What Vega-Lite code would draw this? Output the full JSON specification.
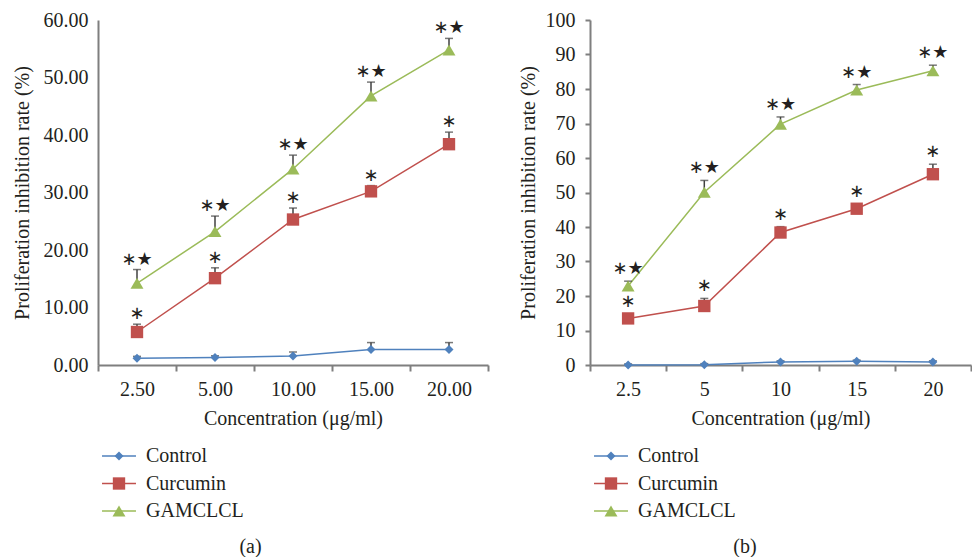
{
  "$schema": "https://vega.github.io/schema/vega-lite/v6.json",
  "padding": {"left": 12, "top": 10, "right": 0, "bottom": 0},
  "background": "white",
  "spacing": 29,
  "config": {
    "font": "Liberation Serif",
    "view": {"stroke": null},
    "axis": {
      "labelFont": "Liberation Serif", "titleFont": "Liberation Serif",
      "labelFontSize": 20, "titleFontSize": 20, "titleFontWeight": "normal",
      "labelColor": "#231f20", "titleColor": "#231f20",
      "domainColor": "#7f7f7f", "domainWidth": 2, "tickColor": "#7f7f7f", "tickWidth": 2, "grid": false
    },
    "title": {"font": "Liberation Serif", "fontSize": 20, "fontWeight": "normal", "color": "#231f20"}
  },
  "datasets": {
    "a": [
      {"conc": "2.50", "series": "Control", "value": 1.16, "upper": 1.5, "note": ""},
      {"conc": "5.00", "series": "Control", "value": 1.3, "upper": 1.6, "note": ""},
      {"conc": "10.00", "series": "Control", "value": 1.57, "upper": 2.26, "note": ""},
      {"conc": "15.00", "series": "Control", "value": 2.7, "upper": 3.9, "note": ""},
      {"conc": "20.00", "series": "Control", "value": 2.7, "upper": 3.9, "note": ""},
      {"conc": "2.50", "series": "Curcumin", "value": 5.74, "upper": 7.1, "note": "∗"},
      {"conc": "5.00", "series": "Curcumin", "value": 15.1, "upper": 16.9, "note": "∗"},
      {"conc": "10.00", "series": "Curcumin", "value": 25.3, "upper": 27.3, "note": "∗"},
      {"conc": "15.00", "series": "Curcumin", "value": 30.2, "upper": 31.2, "note": "∗"},
      {"conc": "20.00", "series": "Curcumin", "value": 38.4, "upper": 40.5, "note": "∗"},
      {"conc": "2.50", "series": "GAMCLCL", "value": 14.2, "upper": 16.6, "note": "∗★"},
      {"conc": "5.00", "series": "GAMCLCL", "value": 23.2, "upper": 25.9, "note": "∗★"},
      {"conc": "10.00", "series": "GAMCLCL", "value": 34.1, "upper": 36.5, "note": "∗★"},
      {"conc": "15.00", "series": "GAMCLCL", "value": 46.8, "upper": 49.2, "note": "∗★"},
      {"conc": "20.00", "series": "GAMCLCL", "value": 54.8, "upper": 56.8, "note": "∗★"}
    ],
    "b": [
      {"conc": "2.5", "series": "Control", "value": 0, "upper": 0.3, "note": ""},
      {"conc": "5", "series": "Control", "value": 0.1, "upper": 0.4, "note": ""},
      {"conc": "10", "series": "Control", "value": 0.9, "upper": 1.2, "note": ""},
      {"conc": "15", "series": "Control", "value": 1.1, "upper": 1.4, "note": ""},
      {"conc": "20", "series": "Control", "value": 0.9, "upper": 1.2, "note": ""},
      {"conc": "2.5", "series": "Curcumin", "value": 13.5, "upper": 14.7, "note": "∗"},
      {"conc": "5", "series": "Curcumin", "value": 17.1, "upper": 19.3, "note": "∗"},
      {"conc": "10", "series": "Curcumin", "value": 38.4, "upper": 40.1, "note": "∗"},
      {"conc": "15", "series": "Curcumin", "value": 45.3, "upper": 46.7, "note": "∗"},
      {"conc": "20", "series": "Curcumin", "value": 55.3, "upper": 58.2, "note": "∗"},
      {"conc": "2.5", "series": "GAMCLCL", "value": 22.9, "upper": 24.3, "note": "∗★"},
      {"conc": "5", "series": "GAMCLCL", "value": 50.1, "upper": 53.5, "note": "∗★"},
      {"conc": "10", "series": "GAMCLCL", "value": 69.8, "upper": 71.9, "note": "∗★"},
      {"conc": "15", "series": "GAMCLCL", "value": 79.7, "upper": 81.3, "note": "∗★"},
      {"conc": "20", "series": "GAMCLCL", "value": 85.3, "upper": 86.9, "note": "∗★"}
    ]
  },
  "resolve": {
    "scale": {"color": "independent", "fill": "independent", "shape": "independent", "x": "independent", "y": "independent"},
    "legend": {"color": "independent", "fill": "independent", "shape": "independent"}
  },
  "hconcat": [
    {
      "width": 390, "height": 345,
      "data": {"name": "a"},
      "title": {"text": "(a)", "orient": "bottom", "anchor": "middle", "frame": "bounds", "offset": 16},
      "encoding": {
        "x": {"field": "conc", "type": "ordinal", "sort": null,
          "scale": {"type": "band", "paddingInner": 0, "paddingOuter": 0},
          "axis": {"title": "Concentration (μg/ml)", "labelAngle": 0, "tickBand": "extent", "tickSize": 6, "labelPadding": 8, "titlePadding": 9, "labelFont": "Liberation Serif", "titleFont": "Liberation Serif", "labelFontSize": 20, "titleFontSize": 20}},
        "y": {"field": "value", "type": "quantitative", "scale": {"domain": [0, 60]},
          "axis": {"title": "Proliferation inhibition rate (%)", "format": ".2f", "values": [0, 10, 20, 30, 40, 50, 60], "ticks": false, "labelPadding": 10, "titlePadding": 11, "labelFont": "Liberation Serif", "titleFont": "Liberation Serif", "labelFontSize": 20, "titleFontSize": 20}}
      },
      "layer": [
        {
          "mark": {"type": "line", "strokeWidth": 1.5},
          "encoding": {
            "color": {"field": "series", "type": "nominal",
              "scale": {"domain": ["Control", "Curcumin", "GAMCLCL"], "range": ["#4F81BD", "#C0504D", "#9BBB59"]},
              "legend": {"title": null, "orient": "none", "legendX": 11, "legendY": 426, "padding": 0, "symbolType": "M-2.83,0H2.83", "symbolSize": 144, "symbolStrokeWidth": 1.5, "labelOffset": 17, "rowPadding": 7.5, "labelFontSize": 20, "labelFont": "Liberation Serif", "labelOpacity": 0}}
          }
        },
        {
          "mark": {"type": "rule", "color": "#404040", "strokeWidth": 1.5},
          "encoding": {"y2": {"field": "upper"}}
        },
        {
          "mark": {"type": "tick", "color": "#404040", "thickness": 1.5, "size": 8, "orient": "horizontal"},
          "encoding": {"y": {"field": "upper", "type": "quantitative", "scale": {"domain": [0, 60]},
            "axis": {"title": "Proliferation inhibition rate (%)", "format": ".2f", "values": [0, 10, 20, 30, 40, 50, 60], "ticks": false, "labelPadding": 10, "titlePadding": 11, "labelFont": "Liberation Serif", "titleFont": "Liberation Serif", "labelFontSize": 20, "titleFontSize": 20}}}
        },
        {
          "mark": {"type": "point", "filled": true, "opacity": 1, "size": 144},
          "encoding": {
            "fill": {"field": "series", "type": "nominal", "scale": {"range": ["#4F81BD", "#C0504D", "#9BBB59"]},
              "legend": {"title": null, "orient": "none", "legendX": 11, "legendY": 426, "padding": 0, "symbolSize": 144, "symbolStrokeWidth": 0, "labelOffset": 17, "rowPadding": 7.5, "labelFontSize": 20, "labelFont": "Liberation Serif", "labelColor": "#231f20"}},
            "shape": {"field": "series", "type": "nominal", "scale": {"range": ["M-0.75,0L0,-0.75L0.75,0L0,0.75Z", "M-1.03,-1.03H1.03V1.03H-1.03Z", "M-1.08,0.92L0,-0.92L1.08,0.92Z"]},
              "legend": {"title": null, "orient": "none", "legendX": 11, "legendY": 426, "padding": 0, "symbolSize": 144, "symbolStrokeWidth": 0, "labelOffset": 17, "rowPadding": 7.5, "labelFontSize": 20, "labelFont": "Liberation Serif", "labelColor": "#231f20"}}
          }
        },
        {
          "mark": {"type": "text", "dy": -10, "fontSize": 18, "color": "#231f20", "font": "DejaVu Sans", "baseline": "middle"},
          "encoding": {
            "y": {"field": "upper", "type": "quantitative", "scale": {"domain": [0, 60]},
              "axis": {"title": "Proliferation inhibition rate (%)", "format": ".2f", "values": [0, 10, 20, 30, 40, 50, 60], "ticks": false, "labelPadding": 10, "titlePadding": 11, "labelFont": "Liberation Serif", "titleFont": "Liberation Serif", "labelFontSize": 20, "titleFontSize": 20}},
            "text": {"field": "note"}
          }
        }
      ]
    },
    {
      "width": 381, "height": 345,
      "data": {"name": "b"},
      "title": {"text": "(b)", "orient": "bottom", "anchor": "middle", "frame": "bounds", "offset": 16},
      "encoding": {
        "x": {"field": "conc", "type": "ordinal", "sort": null,
          "scale": {"type": "band", "paddingInner": 0, "paddingOuter": 0},
          "axis": {"title": "Concentration (μg/ml)", "labelAngle": 0, "tickBand": "extent", "tickSize": 6, "labelPadding": 8, "titlePadding": 9, "labelFont": "Liberation Serif", "titleFont": "Liberation Serif", "labelFontSize": 20, "titleFontSize": 20}},
        "y": {"field": "value", "type": "quantitative", "scale": {"domain": [0, 100]},
          "axis": {"title": "Proliferation inhibition rate (%)", "format": "d", "values": [0, 10, 20, 30, 40, 50, 60, 70, 80, 90, 100], "tickSize": 5, "labelPadding": 10, "titlePadding": 7, "labelFont": "Liberation Serif", "titleFont": "Liberation Serif", "labelFontSize": 20, "titleFontSize": 20}}
      },
      "layer": [
        {
          "mark": {"type": "line", "strokeWidth": 1.5},
          "encoding": {
            "color": {"field": "series", "type": "nominal",
              "scale": {"domain": ["Control", "Curcumin", "GAMCLCL"], "range": ["#4F81BD", "#C0504D", "#9BBB59"]},
              "legend": {"title": null, "orient": "none", "legendX": 11, "legendY": 426, "padding": 0, "symbolType": "M-2.83,0H2.83", "symbolSize": 144, "symbolStrokeWidth": 1.5, "labelOffset": 17, "rowPadding": 7.5, "labelFontSize": 20, "labelFont": "Liberation Serif", "labelOpacity": 0}}
          }
        },
        {
          "mark": {"type": "rule", "color": "#404040", "strokeWidth": 1.5},
          "encoding": {"y2": {"field": "upper"}}
        },
        {
          "mark": {"type": "tick", "color": "#404040", "thickness": 1.5, "size": 8, "orient": "horizontal"},
          "encoding": {"y": {"field": "upper", "type": "quantitative", "scale": {"domain": [0, 100]},
            "axis": {"title": "Proliferation inhibition rate (%)", "format": "d", "values": [0, 10, 20, 30, 40, 50, 60, 70, 80, 90, 100], "tickSize": 5, "labelPadding": 10, "titlePadding": 7, "labelFont": "Liberation Serif", "titleFont": "Liberation Serif", "labelFontSize": 20, "titleFontSize": 20}}}
        },
        {
          "mark": {"type": "point", "filled": true, "opacity": 1, "size": 144},
          "encoding": {
            "fill": {"field": "series", "type": "nominal", "scale": {"range": ["#4F81BD", "#C0504D", "#9BBB59"]},
              "legend": {"title": null, "orient": "none", "legendX": 11, "legendY": 426, "padding": 0, "symbolSize": 144, "symbolStrokeWidth": 0, "labelOffset": 17, "rowPadding": 7.5, "labelFontSize": 20, "labelFont": "Liberation Serif", "labelColor": "#231f20"}},
            "shape": {"field": "series", "type": "nominal", "scale": {"range": ["M-0.75,0L0,-0.75L0.75,0L0,0.75Z", "M-1.03,-1.03H1.03V1.03H-1.03Z", "M-1.08,0.92L0,-0.92L1.08,0.92Z"]},
              "legend": {"title": null, "orient": "none", "legendX": 11, "legendY": 426, "padding": 0, "symbolSize": 144, "symbolStrokeWidth": 0, "labelOffset": 17, "rowPadding": 7.5, "labelFontSize": 20, "labelFont": "Liberation Serif", "labelColor": "#231f20"}}
          }
        },
        {
          "mark": {"type": "text", "dy": -12, "fontSize": 18, "color": "#231f20", "font": "DejaVu Sans", "baseline": "middle"},
          "encoding": {
            "y": {"field": "upper", "type": "quantitative", "scale": {"domain": [0, 100]},
              "axis": {"title": "Proliferation inhibition rate (%)", "format": "d", "values": [0, 10, 20, 30, 40, 50, 60, 70, 80, 90, 100], "tickSize": 5, "labelPadding": 10, "titlePadding": 7, "labelFont": "Liberation Serif", "titleFont": "Liberation Serif", "labelFontSize": 20, "titleFontSize": 20}},
            "text": {"field": "note"}
          }
        }
      ]
    }
  ]
}
